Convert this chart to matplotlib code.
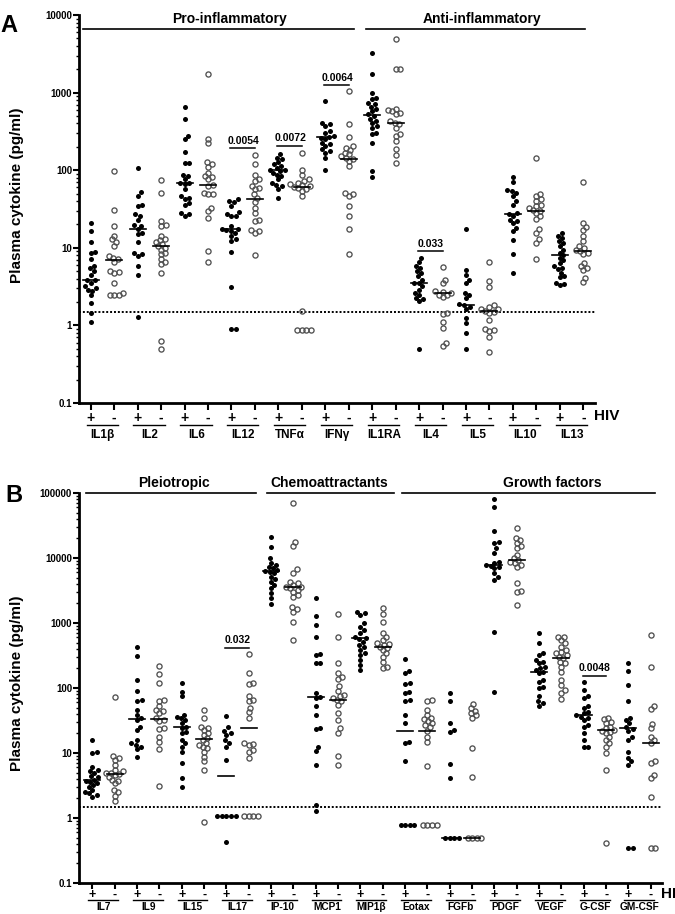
import numpy as np
import matplotlib
matplotlib.use("Agg")
import matplotlib.pyplot as plt
from matplotlib.ticker import FixedLocator, LogLocator, NullFormatter
from matplotlib.transforms import offset_copy

plt.rcParams['font.family'] = ['Liberation Sans', 'DejaVu Sans']

# ---------------- Panel A data ----------------
names_A = ['IL1β', 'IL2', 'IL6', 'IL12', 'TNFα', 'IFNγ', 'IL1RA', 'IL4', 'IL5', 'IL10', 'IL13']
IL1b_pos = [21, 16.4, 11.9, 8.8, 8.5, 7.1, 5.9, 5.5, 5.0, 4.5, 3.9, 3.8, 3.55, 3.2, 3.06, 2.9, 2.77, 2.44, 1.96, 1.46, 1.1]
IL1b_neg = [97, 30.6, 19, 14.4, 12.8, 11.9, 10.5, 7.8, 7.4, 7.1, 6.5, 5.0, 4.9, 4.8, 3.5, 2.6, 2.5, 2.5, 2.5]
IL2_pos = [108, 52, 47, 36, 35, 27, 26, 23, 19.4, 19, 17.6, 15.3, 14.9, 11.9, 8.6, 8.2, 7.8, 5.9, 4.5, 1.3]
IL2_neg = [75, 51, 22, 19.5, 19, 14.4, 13.1, 12.6, 11.9, 11.1, 10.5, 10, 9.5, 8.6, 8.2, 7.1, 6.5, 6.1, 4.8, 0.63, 0.5]
IL6_pos = [658, 452, 275, 254, 173, 125, 122, 88, 84, 76, 69, 68, 66, 57, 46, 44, 42, 38, 36, 28, 27, 26]
IL6_neg = [1720, 254, 221, 127, 119, 111, 93, 84, 82, 76, 64, 62.5, 51, 50, 48.8, 33, 30, 24, 9.1, 6.5]
IL12_pos = [42, 40, 38.8, 34.5, 28.8, 27, 26, 25.6, 19, 17.6, 17.3, 16.9, 16.4, 15.6, 14.2, 12.8, 12.2, 8.8, 3.1, 0.9, 0.9]
IL12_neg = [155, 119, 88, 78, 72, 62.5, 59, 57, 49, 44, 39, 33, 28, 23, 22, 17, 16.4, 15.6, 8.0]
TNFa_pos = [160, 145, 138, 127, 119, 113, 108, 102, 100, 97.5, 93, 88, 84, 76, 69, 64, 62.5, 57, 44]
TNFa_neg = [165, 102, 86, 76, 72, 69, 66, 64, 62, 61, 59, 57, 54, 46.5, 1.53, 0.87, 0.87, 0.87, 0.87]
IFNg_pos = [770, 409, 389, 370, 319, 304, 275, 270, 262, 249, 226, 215, 205, 185, 177, 168, 145, 102]
IFNg_neg = [1047, 389, 270, 205, 195, 182, 168, 160, 152, 145, 138, 131, 113, 51, 49, 47, 34.5, 25.6, 17.3, 8.2]
IL1RA_pos = [3264, 1750, 996, 859, 817, 740, 704, 657, 608, 578, 524, 499, 461, 430, 409, 370, 353, 304, 289, 226, 97.5, 82.5]
IL1RA_neg = [4946, 1990, 1990, 620, 596, 578, 550, 524, 430, 409, 389, 353, 289, 275, 237, 185, 155, 122]
IL4_pos = [7.45, 6.55, 5.8, 5.5, 5.0, 4.8, 4.3, 3.9, 3.55, 3.5, 3.2, 2.9, 2.64, 2.5, 2.27, 2.16, 2.06, 0.5]
IL4_neg = [5.6, 3.9, 3.5, 2.77, 2.69, 2.64, 2.5, 2.44, 2.34, 1.43, 1.39, 1.1, 0.93, 0.59, 0.55]
IL5_pos = [17.3, 5.2, 4.5, 3.9, 3.5, 2.64, 2.5, 2.27, 1.87, 1.81, 1.74, 1.61, 1.26, 1.06, 0.79, 0.5]
IL5_neg = [6.55, 3.7, 3.15, 1.81, 1.74, 1.64, 1.61, 1.53, 1.49, 1.46, 1.17, 0.89, 0.87, 0.85, 0.71, 0.45]
IL10_pos = [82, 70, 55, 54, 51, 46, 40, 36, 28, 27, 25.6, 23, 22, 20.6, 18.2, 16.4, 12.6, 8.2, 4.8]
IL10_neg = [145, 50, 47, 42, 40, 36, 34.5, 33, 31, 30, 28, 25.6, 23.7, 17.3, 15.6, 12.8, 11.4, 7.2]
IL13_pos = [15.6, 14.4, 13.5, 12.2, 11.4, 10.5, 9.5, 8.6, 8.0, 7.45, 6.95, 6.4, 5.8, 5.5, 5.3, 4.8, 4.3, 4.2, 3.55, 3.4, 3.3]
IL13_neg = [70, 20.6, 18.7, 16.9, 14.4, 12.2, 10.5, 10, 9.4, 9.1, 8.6, 8.2, 6.4, 5.8, 5.5, 5.2, 4.1, 3.6]
median_A_pos = [3.8, 17.6, 68, 17.5, 100, 270, 508, 3.55, 1.83, 27.5, 8.0]
median_A_neg = [6.9, 10.5, 64, 43, 61, 140, 409, 2.64, 1.53, 30, 9.1]
pvals_A = [('0.0054', 3, 191), ('0.0072', 4, 208), ('0.0064', 5, 1240), ('0.033', 7, 9.0)]
groups_A = [('Pro-inflammatory', -0.34, 11.23, 5.9), ('Anti-inflammatory', 11.74, 21.06, 16.7)]

# ---------------- Panel B data ----------------
names_B = ['IL7', 'IL9', 'IL15', 'IL17', 'IP-10', 'MCP1', 'MIP1β', 'Eotax', 'FGFb', 'PDGF', 'VEGF', 'G-CSF', 'GM-CSF']
IL7_pos = [15.8, 10.5, 9.9, 6.0, 5.5, 5.2, 4.9, 4.4, 4.2, 3.9, 3.75, 3.6, 3.4, 3.2, 3.0, 2.7, 2.5, 2.4, 2.26, 2.13]
IL7_neg = [72, 9.0, 8.3, 7.8, 6.5, 5.5, 5.2, 5.0, 4.9, 4.75, 4.6, 4.3, 3.9, 3.75, 3.4, 2.7, 2.5, 2.2, 1.85]
IL9_pos = [432, 311, 133, 91, 65, 64, 46, 38, 34, 32, 25.4, 22.6, 15.8, 14.1, 13.3, 12.5, 11.4, 8.8]
IL9_neg = [218, 164, 121, 65, 62, 52, 46, 45, 41, 35, 32, 31, 24, 23, 17.8, 14.9, 11.4, 3.1]
IL15_pos = [118, 88, 74, 38, 36, 34, 32, 28.6, 25.4, 24, 21.3, 20, 15.8, 14.1, 12.5, 10.5, 6.9, 4.1, 3.0]
IL15_neg = [46, 34, 25.4, 24, 22.6, 20, 18.9, 16.8, 15.8, 14.1, 13.3, 12.5, 11.8, 10.5, 8.8, 7.4, 5.5, 0.88]
IL17_pos = [37, 24.8, 22, 20, 19, 15.8, 14.1, 12.2, 7.8, 1.07, 1.07, 1.07, 1.07, 1.07, 0.42]
IL17_neg = [333, 172, 121, 115, 74, 65, 62, 49, 42, 35, 14.1, 13.7, 13.3, 11.1, 10.5, 8.3, 1.07, 1.07, 1.07, 1.07]
IP10_pos = [21300, 14900, 9890, 8470, 7800, 7360, 6930, 6530, 6380, 6160, 5810, 5160, 4700, 4330, 3850, 3410, 2860, 2390, 1960]
IP10_neg = [71000, 17800, 15300, 6700, 5950, 4330, 4080, 3850, 3620, 3540, 3410, 3220, 3030, 2700, 2540, 1740, 1620, 1490, 1050, 547]
MCP1_pos = [2400, 1280, 932, 617, 333, 322, 245, 240, 83, 72, 69, 52, 38, 24, 23, 12.5, 10.9, 6.5, 1.58, 1.28]
MCP1_neg = [1375, 617, 245, 168, 146, 136, 107, 91, 78, 74, 69, 65, 62, 55, 41, 32, 24, 20.6, 9.0, 6.5]
MIP1b_pos = [1490, 1410, 1330, 988, 879, 780, 693, 617, 581, 561, 517, 459, 432, 385, 341, 322, 270, 226, 189]
MIP1b_neg = [1680, 1375, 1050, 693, 617, 547, 498, 475, 459, 432, 408, 385, 341, 303, 254, 213, 201]
Eotax_pos = [276, 185, 172, 118, 115, 88, 83, 65, 62, 38, 28.6, 14.9, 14.1, 7.6, 0.78, 0.78, 0.78, 0.78]
Eotax_neg = [65, 64, 46, 38, 35, 33, 31, 29, 27, 25.4, 22, 17.8, 14.9, 6.3, 0.78, 0.78, 0.78, 0.78]
FGFb_pos = [83, 64, 28.6, 22.6, 21.3, 6.8, 4.1, 0.49, 0.49, 0.49, 0.49]
FGFb_neg = [57, 49, 45, 41, 38, 35, 11.8, 4.3, 0.49, 0.49, 0.49, 0.49]
PDGF_pos = [80000, 60100, 26300, 17800, 16800, 14100, 12100, 8790, 8280, 7800, 7530, 7180, 6930, 5810, 5160, 4590, 736, 88]
PDGF_neg = [28600, 20100, 18900, 16800, 15300, 14100, 11100, 9890, 9310, 8790, 8280, 7800, 7180, 4080, 3140, 3030, 1870]
VEGF_pos = [693, 487, 341, 322, 270, 254, 240, 213, 201, 189, 178, 168, 133, 125, 105, 99, 74, 62, 58, 52]
VEGF_neg = [617, 617, 547, 487, 432, 385, 362, 341, 322, 303, 286, 254, 240, 213, 178, 133, 111, 93, 83, 67]
GCSF_pos = [125, 93, 74, 69, 52, 49, 43, 41, 38, 36, 34, 32, 27, 25.4, 20, 15.8, 12.5, 12.2]
GCSF_neg = [35, 33, 30, 28.6, 25.4, 24, 22.6, 22, 21.3, 20, 17.8, 15.8, 14.1, 12.5, 9.9, 5.5, 0.41]
GMCSF_pos = [240, 185, 111, 62, 35, 32, 28.6, 25.4, 23, 22, 17.8, 15.8, 10.5, 8.3, 7.4, 6.5, 0.34, 0.34]
GMCSF_neg = [653, 208, 53, 47, 28, 24, 17.8, 15.8, 14.1, 7.6, 6.9, 4.6, 4.1, 2.1, 0.34, 0.34]
median_B_pos = [3.9, 33, 24.8, 4.4, 6400, 72, 580, 22, 0.49, 7800, 178, 38, 24]
median_B_neg = [4.75, 33, 16.2, 24, 3540, 65, 432, 22, 0.49, 9300, 286, 22.6, 14.1]
pvals_B = [('0.032', 3, 412), ('0.0048', 11, 153)]
groups_B = [('Pleiotropic', -0.27, 7.32, 3.66), ('Chemoattractants', 7.81, 13.48, 10.6),
            ('Growth factors', 13.88, 25.18, 20.6)]

pos_A = [IL1b_pos, IL2_pos, IL6_pos, IL12_pos, TNFa_pos, IFNg_pos, IL1RA_pos, IL4_pos, IL5_pos, IL10_pos, IL13_pos]
neg_A = [IL1b_neg, IL2_neg, IL6_neg, IL12_neg, TNFa_neg, IFNg_neg, IL1RA_neg, IL4_neg, IL5_neg, IL10_neg, IL13_neg]
pos_B = [IL7_pos, IL9_pos, IL15_pos, IL17_pos, IP10_pos, MCP1_pos, MIP1b_pos, Eotax_pos, FGFb_pos, PDGF_pos, VEGF_pos, GCSF_pos, GMCSF_pos]
neg_B = [IL7_neg, IL9_neg, IL15_neg, IL17_neg, IP10_neg, MCP1_neg, MIP1b_neg, Eotax_neg, FGFb_neg, PDGF_neg, VEGF_neg, GCSF_neg, GMCSF_neg]

# ---------------- figure ----------------
W, H = 675, 914
fig = plt.figure(figsize=(W / 100, H / 100), dpi=100)


def px_rect(l, r, t, b):
    return [l / W, 1 - b / H, (r - l) / W, (b - t) / H]


axA = fig.add_axes(px_rect(79, 595, 15, 403))
axB = fig.add_axes(px_rect(79, 662, 493, 883))


def swarm(ax, x0, vals, d):
    vals = np.asarray(vals, float)
    disp = ax.transData.transform(np.column_stack([np.full(len(vals), float(x0)), vals]))
    ys = disp[:, 1]
    order = np.argsort(ys)
    placed = []
    xs_px = np.zeros(len(vals))
    for i in order:
        y = ys[i]
        forb = []
        for (px, py) in placed:
            dy = abs(y - py)
            if dy < d:
                w = np.sqrt(d * d - dy * dy)
                forb.append((px - w, px + w))
        cands = [0.0] + [a for a, b in forb] + [b for a, b in forb]
        cands.sort(key=lambda c: (abs(c), -c))
        for c in cands:
            if all(not (a + 1e-6 < c < b - 1e-6) for a, b in forb):
                xs_px[i] = c
                break
        placed.append((xs_px[i], y))
    x0d = ax.transData.transform([(x0, 1.0)])[0, 0]
    x1d = ax.transData.transform([(x0 + 1, 1.0)])[0, 0]
    return x0 + xs_px / (x1d - x0d)


def setup(ax, names, pos_l, neg_l, med_p, med_n, pvals, groups, xlim, ylim, ylabels,
          hdr_line_px, hdr_text_px, hiv_x, hiv_ha, line_off, name_off, name_fs,
          pm_fs, tick_len, hiv_off):
    n = len(names)
    ax.set_yscale('log')
    ax.set_xlim(*xlim)
    ax.set_ylim(*ylim)
    for s in ['top', 'right']:
        ax.spines[s].set_visible(False)
    for s in ['left', 'bottom']:
        ax.spines[s].set_linewidth(2.0)
    ax.yaxis.set_major_locator(FixedLocator(ylabels))
    ax.set_yticklabels([('%g' % v) for v in ylabels], fontsize=7, fontweight='bold')
    ax.yaxis.set_minor_locator(LogLocator(base=10, subs=np.arange(2, 10) * 1.0, numticks=20))
    ax.yaxis.set_minor_formatter(NullFormatter())
    ax.tick_params(axis='y', which='major', length=4, width=1.5, pad=1)
    ax.tick_params(axis='y', which='minor', length=2.5, width=1.0)
    ax.set_xticks(np.arange(2 * n))
    ax.set_xticklabels(['+', '-'] * n, fontsize=pm_fs, fontweight='bold')
    ax.tick_params(axis='x', which='major', length=tick_len, width=1.5, pad=0.5)
    ax.axhline(1.5, color='black', lw=1.4, ls=(0, (1, 1)), zorder=1)

    ax_h = ax.bbox.height
    xtr = ax.get_xaxis_transform()
    d = 4.6
    unit_px = ax.transData.transform([(1, 1)])[0, 0] - ax.transData.transform([(0, 1)])[0, 0]
    mhalf = 8.0 / unit_px
    for k in range(n):
        xp, xn = 2 * k, 2 * k + 1
        xs = swarm(ax, xp, pos_l[k], d)
        ax.plot(xs, pos_l[k], 'o', ms=3.6, mfc='black', mec='black', mew=0, ls='none', zorder=3, clip_on=False)
        xs = swarm(ax, xn, neg_l[k], d)
        ax.plot(xs, neg_l[k], 'o', ms=3.7, mfc='none', mec='#505050', mew=0.95, ls='none', zorder=3, clip_on=False)
        ax.plot([xp - mhalf, xp + mhalf], [med_p[k]] * 2, color='black', lw=1.2, zorder=4)
        ax.plot([xn - mhalf, xn + mhalf], [med_n[k]] * 2, color='black', lw=1.2, zorder=4)
        # underline + name
        tr_line = offset_copy(xtr, fig=fig, x=0, y=-line_off, units='dots')
        ax.plot([xp - 0.18, xn + 0.15], [0, 0], color='black', lw=1.0, transform=tr_line, clip_on=False)
        tr_name = offset_copy(xtr, fig=fig, x=0, y=-name_off, units='dots')
        ax.text(xp + 0.5, 0, names[k], transform=tr_name, ha='center', va='center',
                fontsize=name_fs, fontweight='bold', clip_on=False)
    tr_hiv = offset_copy(xtr, fig=fig, x=0, y=-hiv_off, units='dots')
    ax.text(hiv_x, 0, 'HIV', transform=tr_hiv, ha=hiv_ha, va='center', fontsize=11, fontweight='bold')

    # p-values
    for txt, k, yv in pvals:
        xp, xn = 2 * k, 2 * k + 1
        ax.plot([xp - 0.05, xn + 0.0], [yv, yv], color='black', lw=1.1, zorder=4)
        ax.annotate(txt, xy=(xp + 0.5, yv), xytext=(0, 2), textcoords='offset points',
                    ha='center', va='bottom', fontsize=7.5, fontweight='bold')
    # group headers
    for txt, x1, x2, xt in groups:
        yl = 1 - hdr_line_px / ax_h
        yt = 1 - hdr_text_px / ax_h
        ax.plot([x1, x2], [yl, yl], color='black', lw=1.2, transform=xtr, clip_on=False)
        ax.text(xt, yt, txt, transform=xtr, ha='center', va='center', fontsize=10,
                fontweight='bold', clip_on=False)


setup(axA, names_A, pos_A, neg_A, median_A_pos, median_A_neg, pvals_A, groups_A,
      (-0.5, 21.5), (0.1, 10000), [0.1, 1, 10, 100, 1000, 10000], 14, 4, 22.0, 'center',
      22, 32, 8.5, 10, 5, 13)
setup(axB, names_B, pos_B, neg_B, median_B_pos, median_B_neg, pvals_B, groups_B,
      (-0.6, 25.5), (0.1, 100000), [0.1, 1, 10, 100, 1000, 10000, 100000], 0, -10, 25.45, 'left',
      17, 24.5, 7.3, 9, 4, 11)

fig.text(17 / W, 1 - 195 / H, 'Plasma cytokine (pg/ml)', rotation=90, ha='center', va='center',
         fontsize=11, fontweight='bold')
fig.text(17 / W, 1 - 683 / H, 'Plasma cytokine (pg/ml)', rotation=90, ha='center', va='center',
         fontsize=11, fontweight='bold')
fig.text(9 / W, 1 - 25 / H, 'A', ha='center', va='center', fontsize=17, fontweight='bold')
fig.text(14 / W, 1 - 496 / H, 'B', ha='center', va='center', fontsize=17, fontweight='bold')

fig.savefig('out.png', dpi=100)
